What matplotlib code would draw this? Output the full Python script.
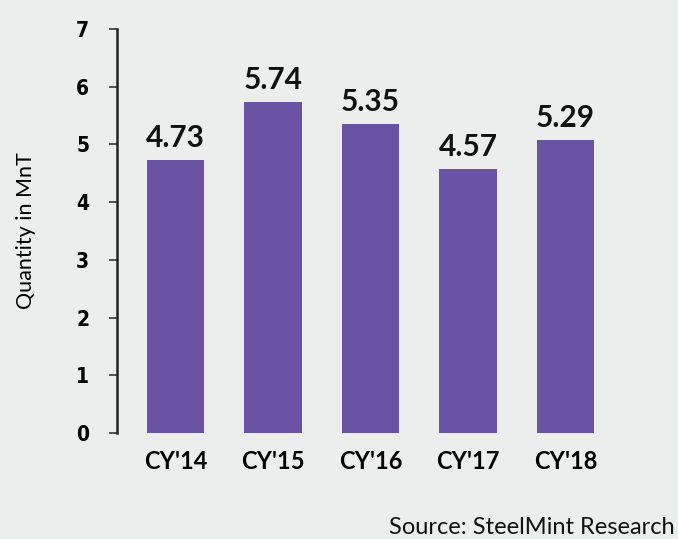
import matplotlib.pyplot as plt

years = ["CY'14", "CY'15", "CY'16", "CY'17", "CY'18"]
heights = [4.73, 5.74, 5.35, 4.57, 5.08]
labels = ["4.73", "5.74", "5.35", "4.57", "5.29"]
yticks = [0, 1, 2, 3, 4, 5, 6, 7]

bg = '#eceeee'
fig = plt.figure(figsize=(6.78, 5.39), dpi=100, facecolor=bg)
ax = fig.add_axes([117/678, 106/539, 546/678, 404/539], facecolor=bg)

x = range(len(years))
ax.bar(x, heights, width=0.585, color='#6a53a2')
for xi, h, lab in zip(x, heights, labels):
    ax.text(xi, h + 0.14, lab, ha='center', va='bottom', fontsize=21.5,
            fontweight='bold', family='Lato', color='#111111')

ax.set_xlim(-0.6, 5.0)
ax.set_ylim(0, 7)
ax.set_yticks(yticks)
ax.set_yticklabels([str(t) for t in yticks], fontsize=15, fontweight='bold',
                   fontstretch='condensed', family='DejaVu Sans')
ax.set_xticks(list(x))
ax.set_xticklabels(years, fontsize=17, fontweight='bold', family='Lato')
ax.tick_params(axis='x', length=0, pad=12)
ax.tick_params(axis='y', length=6, width=1.2, color='#333333', pad=14)

for s in ['top', 'right', 'bottom']:
    ax.spines[s].set_visible(False)
ax.spines['left'].set_linewidth(1.8)
ax.spines['left'].set_color('#222222')

ax.set_ylabel('Quantity in MnT', fontsize=15.5, family='Lato', labelpad=29)
fig.text(675/678, 1 - 527/539, 'Source: SteelMint Research', ha='right', va='center',
         fontsize=17, family='Lato', color='#111111')

plt.savefig('out.png', dpi=100, facecolor=bg)
